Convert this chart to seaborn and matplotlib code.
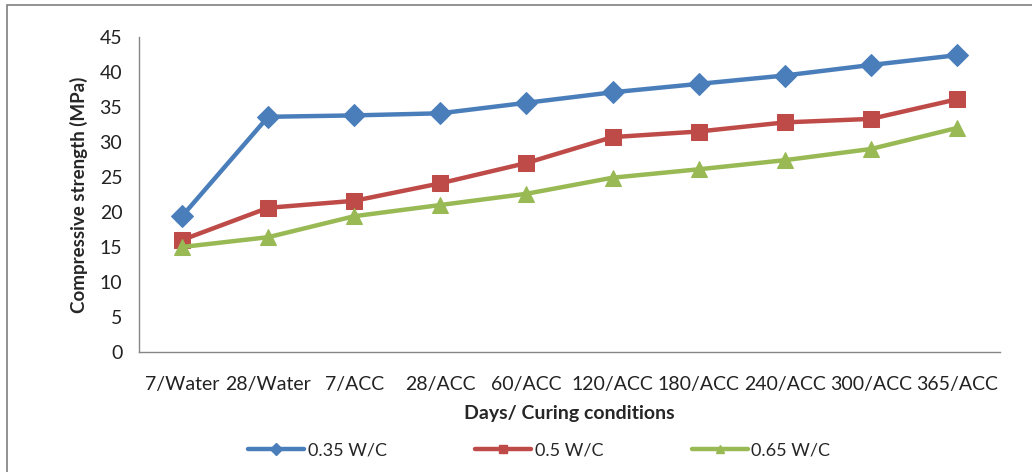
import matplotlib
matplotlib.use("Agg")
import matplotlib.pyplot as plt
from matplotlib.lines import Line2D
from matplotlib.patches import Rectangle
import seaborn as sns
import pandas as pd

categories = ["7/Water", "28/Water", "7/ACC", "28/ACC", "60/ACC", "120/ACC",
              "180/ACC", "240/ACC", "300/ACC", "365/ACC"]
wc_035 = [19.4, 33.6, 33.8, 34.1, 35.6, 37.1, 38.3, 39.5, 41.0, 42.4]
wc_050 = [16.0, 20.6, 21.6, 24.1, 27.0, 30.7, 31.5, 32.8, 33.3, 36.1]
wc_065 = [15.0, 16.4, 19.4, 21.0, 22.6, 24.9, 26.1, 27.4, 29.0, 32.0]
series_names = ["0.35 W/C", "0.5 W/C", "0.65 W/C"]
y_ticks = [0, 5, 10, 15, 20, 25, 30, 35, 40, 45]

sns.set_style("white")
plt.rcParams["font.family"] = ["Lato", "DejaVu Sans"]

rows = []
for name, vals in zip(series_names, [wc_035, wc_050, wc_065]):
    for c, v in zip(categories, vals):
        rows.append({"cond": c, "strength": v, "series": name})
df = pd.DataFrame(rows)

colors = {"0.35 W/C": "#4A7EBB", "0.5 W/C": "#BE4B48", "0.65 W/C": "#98B954"}
markers = {"0.35 W/C": "D", "0.5 W/C": "s", "0.65 W/C": "^"}
msizes = {"0.35 W/C": 11, "0.5 W/C": 12, "0.65 W/C": 12}

fig = plt.figure(figsize=(10.32, 4.72), dpi=100)
ax = fig.add_axes([139/1032, 1-352/472, (1000-139)/1032, (352-37)/472])

for name in series_names:
    sub = df[df["series"] == name]
    sns.lineplot(data=sub, x="cond", y="strength", sort=False, ax=ax,
                 color=colors[name], marker=markers[name], markersize=msizes[name],
                 markeredgecolor=colors[name], linewidth=3.2, legend=False)

ax.set_xlim(-0.5, len(categories) - 0.5)
ax.set_ylim(0, 45)
ax.set_yticks(y_ticks)
ax.set_xticks(range(len(categories)))
ax.set_xticklabels(categories)
ax.set_xticks([i - 0.5 for i in range(len(categories) + 1)], minor=True)
ax.tick_params(axis="x", which="major", length=0, pad=17, labelsize=14, labelcolor="#222222")
ax.tick_params(axis="x", which="minor", length=6, width=1, color="#868686", direction="out")
ax.tick_params(axis="y", which="major", length=6, width=1, color="#868686", direction="out",
               labelsize=14, labelcolor="#222222", pad=6)

for s in ["top", "right"]:
    ax.spines[s].set_visible(False)
for s in ["left", "bottom"]:
    ax.spines[s].set_color("#868686")
    ax.spines[s].set_linewidth(1)

ax.set_xlabel("Days/ Curing conditions", fontsize=14, fontweight="bold", labelpad=9)
ax.set_ylabel("Compressive strength (MPa)", fontsize=13.5, fontweight="bold", labelpad=8)

handles = [Line2D([0], [0], color=colors[n], marker=markers[n], markersize=6,
                  markeredgecolor=colors[n], linewidth=3.2) for n in series_names]
fig.legend(handles, series_names, loc="center left", bbox_to_anchor=(248/1032, 1-450/472),
           ncol=3, frameon=False, fontsize=13, handlelength=3.1, columnspacing=4.9,
           handletextpad=0.2, borderpad=0, borderaxespad=0)

fig.patches.append(Rectangle((7/1032, -0.1), 1.2, 1-5/472+0.1, transform=fig.transFigure,
                             fill=False, edgecolor="#7f7f7f", linewidth=1.2))

fig.savefig("out.png", dpi=100)
